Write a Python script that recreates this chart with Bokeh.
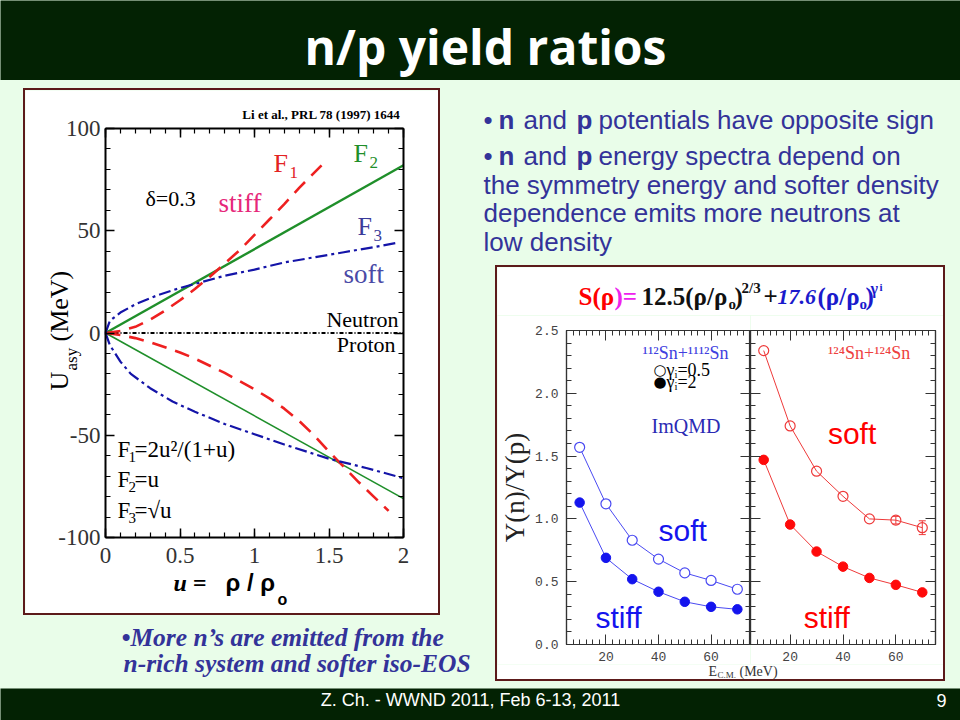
import numpy as np
from bokeh.plotting import figure
from bokeh.models import (Range1d, Label, LinearAxis, FixedTicker, Spacer,
                          Whisker, ColumnDataSource, TeeHead, CustomJSTickFormatter)
from bokeh.layouts import column, row
from bokeh.embed import file_html
from bokeh.resources import INLINE

# ---------------- data: left panel (U_asy vs u = rho/rho0) ----------------
u_f2 = [0.0, 2.0]
neutron_f2 = [0.0, 82.0]
proton_f2 = [0.0, -81.0]

u_f1_n = [0.0, 0.1, 0.2, 0.3, 0.4, 0.5, 0.6, 0.7, 0.8, 0.9, 1.0, 1.1, 1.2, 1.3, 1.45]
neutron_f1 = [0, 1, 3, 6.5, 11, 16, 21.5, 27.5, 34, 40.5, 48, 55.5, 63, 71, 82]
u_f1_p = [0.0, 0.1, 0.2, 0.3, 0.4, 0.5, 0.6, 0.7, 0.8, 0.9, 1.0, 1.1, 1.2, 1.3, 1.4,
          1.5, 1.6, 1.7, 1.8, 1.9]
proton_f1 = [0, -1, -2.5, -4.5, -7, -9.5, -12.5, -16, -19.5, -23.5, -27.5, -32, -37,
             -43, -50, -58, -65.5, -73, -80, -87]

u_f3_n = [0.0, 0.03, 0.1, 0.2, 0.35, 0.5, 0.65, 0.8, 1.0, 1.2, 1.4, 1.6, 1.8, 1.95]
neutron_f3 = [0, 6, 10, 14, 18.5, 22, 25, 28, 31, 34.5, 37, 39.5, 42, 44]
u_f3_p = [0.0, 0.03, 0.1, 0.17, 0.3, 0.45, 0.6, 0.8, 1.0, 1.2, 1.5, 1.75, 2.0]
proton_f3 = [0, -6, -14, -20, -27, -33.5, -38.5, -44.5, -49.5, -54.5, -61.5, -66, -71]

u_ticks = [0, 0.5, 1, 1.5, 2]
uasy_ticks = [-100, -50, 0, 50, 100]

# ---------------- data: right panel (Y(n)/Y(p) vs E_cm) ----------------
e_cm = [10, 20, 30, 40, 50, 60, 70]
ratio_112_soft = [1.57, 1.12, 0.83, 0.68, 0.57, 0.51, 0.44]
ratio_112_stiff = [1.13, 0.69, 0.52, 0.42, 0.34, 0.30, 0.28]
ratio_124_soft = [2.34, 1.74, 1.38, 1.18, 1.00, 0.99, 0.93]
ratio_124_stiff = [1.47, 0.955, 0.74, 0.62, 0.53, 0.475, 0.415]
err_124_soft = [0, 0, 0, 0, 0, 0.03, 0.055]
ecm_ticks = [20, 40, 60]
ratio_ticks = [0.0, 0.5, 1.0, 1.5, 2.0, 2.5]

# ---------------- style ----------------
BG = "#e9fde9"
DARK = "#032203"
BOXC = "#5c1a1a"
BLUE_TXT = "#333399"
SERIF = "Liberation Serif"
SANS = "Liberation Sans"
GREEN = "#1f8f2a"
RED = "#ee2020"
NAVY = "#1414a8"
BLUE = "#1414ee"
BLUE_O = "#4a4af2"
RED_F = "#ff0a0a"
RED_O = "#ee3a3a"
MID = 0.34  # em offset from alphabetic baseline to the middle of the text box


def bar(w, h):
    return Spacer(width=w, height=h, styles={"background-color": BOXC})


def labeller(p, fx, fy):
    """Return a function placing Labels given page-pixel positions (baseline)."""
    def add(px, py, s, size, color="black", font=SERIF, style="normal",
            align="left", angle=0.0, mid=False):
        if not mid:
            py = py - MID * size
        p.add_layout(Label(x=fx(px), y=fy(py), text=s, text_font=font,
                           text_font_size=f"{size}px", text_font_style=style,
                           text_color=color, text_align=align, text_baseline="middle",
                           angle=angle))
    return add


def ident(v):
    return v


def sheet(x0, x1, y0, y1, bg):
    p = figure(width=x1 - x0, height=y1 - y0, x_range=Range1d(x0, x1),
               y_range=Range1d(y1, y0), x_axis_type=None, y_axis_type=None,
               toolbar_location=None, output_backend="svg", title=None,
               min_border=0, background_fill_color=bg, border_fill_color=bg,
               outline_line_color=None)
    return p


def style_axis(ax, ticks, minor, tick_in, minor_in, line_w, color, size=13,
               font=SERIF, standoff=0, label_color="#333", hide=False, overrides=None):
    ax.ticker = FixedTicker(ticks=ticks, minor_ticks=minor)
    ax.axis_line_color = color
    ax.axis_line_width = line_w
    ax.major_tick_in = tick_in
    ax.major_tick_out = 0
    ax.minor_tick_in = minor_in
    ax.minor_tick_out = 0
    ax.major_tick_line_color = color
    ax.minor_tick_line_color = color
    ax.major_tick_line_width = max(1.0, line_w * 0.75)
    ax.minor_tick_line_width = max(1.0, line_w * 0.6)
    ax.major_label_standoff = standoff
    if hide:
        ax.formatter = CustomJSTickFormatter(code="return ''")
        ax.major_label_text_font_size = "0px"
    else:
        ax.major_label_text_font = font
        ax.major_label_text_font_size = f"{size}px"
        ax.major_label_text_color = label_color
        if overrides:
            ax.major_label_overrides = overrides


# ---------------- header & footer ----------------
header = sheet(0, 960, 0, 80, DARK)
hl = labeller(header, ident, ident)
hl(485, 62, "n/p yield ratios", 48, "white", "Open Sans", "bold", "center")

footer = sheet(0, 960, 688, 720, DARK)
fl = labeller(footer, ident, ident)
fl(470, 706, "Z. Ch. - WWND 2011, Feb 6-13, 2011", 18, "white", SANS, align="center")
fl(936, 706, "9", 18, "white", SANS)

# ---------------- left plot (white box 23..440 x 88..615, 2px border) ----------------
def lpx(px):
    return (px - 105) / 149.0


def lpy(py):
    return (332.5 - py) / 2.045


lp = figure(width=413, height=523, x_range=Range1d(lpx(25), lpx(438)),
            y_range=Range1d(lpy(613), lpy(90)),
            toolbar_location=None, output_backend="svg", title=None, min_border=0,
            background_fill_color="white", border_fill_color="white",
            outline_line_color=None)
lp.grid.visible = False
u_minor = [round(0.1 * i, 1) for i in range(21)]
uasy_minor = list(range(-100, 101, 10))
top_ax = LinearAxis()
right_ax = LinearAxis()
lp.add_layout(top_ax, "above")
lp.add_layout(right_ax, "right")
bot_ax = lp.below[0]
left_ax = lp.left[0]
style_axis(bot_ax, u_ticks, u_minor, 9, 5, 2, "black", 23, standoff=10,
           overrides={t: f"{t:g}" for t in u_ticks})
style_axis(left_ax, uasy_ticks, uasy_minor, 9, 5, 2, "black", 23, standoff=5,
           overrides={t: str(t) for t in uasy_ticks})
style_axis(top_ax, u_ticks, u_minor, 9, 5, 2, "black", hide=True)
style_axis(right_ax, uasy_ticks, uasy_minor, 9, 5, 2, "black", hide=True)
u_bounds = (min(u_ticks), max(u_ticks))
v_bounds = (min(uasy_ticks), max(uasy_ticks))
bot_ax.fixed_location = v_bounds[0]
top_ax.fixed_location = v_bounds[1]
left_ax.fixed_location = u_bounds[0]
right_ax.fixed_location = u_bounds[1]
for ax in (bot_ax, top_ax):
    ax.bounds = u_bounds
for ax in (left_ax, right_ax):
    ax.bounds = v_bounds

# Neutron / Proton divider at U = 0
lp.line(list(u_bounds), [0, 0], line_color="black", line_width=2, line_dash="4 2 1 2")
lp.line(u_f2, neutron_f2, line_color=GREEN, line_width=2.4)
lp.line(u_f2, proton_f2, line_color=GREEN, line_width=1.6)
lp.line(u_f1_n, neutron_f1, line_color=RED, line_width=2.6, line_dash="15 9")
lp.line(u_f1_p, proton_f1, line_color=RED, line_width=2.6, line_dash="15 9")
lp.line(u_f3_n, neutron_f3, line_color=NAVY, line_width=2.2, line_dash="12 4 3 4")
lp.line(u_f3_p, proton_f3, line_color=NAVY, line_width=2.2, line_dash="12 4 3 4")

L = labeller(lp, lpx, lpy)
L(400, 118, "Li et al., PRL 78 (1997) 1644", 13, "black", SERIF, "bold", "right")
L(273, 172, "F", 26, "#e32222")
L(289, 178, "1", 17, "#e32222")
L(353, 162, "F", 26, GREEN)
L(369, 168, "2", 17, GREEN)
L(357, 235, "F", 26, "#3b3b9a")
L(373, 241, "3", 17, "#3b3b9a")
L(145, 205, "δ=0.3", 22)
L(218, 212, "stiff", 27, "#e6287a")
L(343, 283, "soft", 27, "#4a4aa6")
L(398, 326, "Neutron", 22, align="right")
L(395, 351, "Proton", 22, align="right")
for yb, sub, rest in ((457, "1", "=2u²/(1+u)"), (487, "2", "=u"), (518, "3", "=√u")):
    L(117, yb, "F", 23)
    L(128, yb + 5, sub, 15)
    L(134, yb, rest, 23)
# rotated y label: U_asy (MeV)
L(59, 390, "U", 26, angle=np.pi / 2, mid=True)
L(71, 370, "asy", 17, angle=np.pi / 2, mid=True)
L(59, 341, "(MeV)", 26, angle=np.pi / 2, mid=True)
# x label: u = rho / rho_o
L(173, 591, "u =", 24, style="bold italic")
L(225, 590, "ρ / ρ", 24, font=SANS, style="bold")
L(277, 604, "o", 16, font=SANS, style="bold")

left_box = column(bar(417, 2), row(bar(2, 523), lp, bar(2, 523)), bar(417, 2))

# ---------------- italic note ----------------
ital = sheet(0, 482, 615, 688, BG)
IL = labeller(ital, ident, ident)
IL(121, 646, "•More n’s are emitted from the", 25.5, BLUE_TXT, SERIF, "bold italic")
IL(123, 672, "n-rich system and softer iso-EOS", 25.5, BLUE_TXT, SERIF, "bold italic")

# ---------------- bullets ----------------
bul = sheet(482, 960, 80, 265, BG)
BL = labeller(bul, ident, ident)
for yb, rest in ((128, "potentials have opposite sign"), (164, "energy spectra depend on")):
    BL(483, yb, "•", 26, BLUE_TXT, SANS)
    BL(498, yb, "n", 26, BLUE_TXT, SANS, "bold")
    BL(523, yb, "and", 26, BLUE_TXT, SANS)
    BL(576, yb, "p", 26, BLUE_TXT, SANS, "bold")
    BL(598, yb, rest, 26, BLUE_TXT, SANS)
BL(483, 193, "the symmetry energy and softer density", 26, BLUE_TXT, SANS)
BL(483, 221, "dependence emits more neutrons at", 26, BLUE_TXT, SANS)
BL(483, 250, "low density", 26, BLUE_TXT, SANS)

# ---------------- right panel (box 495..945 x 265..681, 2px border) ----------------
tfig = sheet(497, 943, 267, 315, "white")
TL = labeller(tfig, ident, ident)
TL(578, 304, "S(ρ", 25, "#ff0000", SERIF, "bold")
TL(614, 304, ")=", 25, "#ee22ee", SERIF, "bold")
TL(641, 304, "12.5(ρ/ρ", 25, "#111111", SERIF, "bold")
TL(728, 309, "o", 15, "#111111", SERIF, "bold")
TL(734, 304, ")", 25, "#111111", SERIF, "bold")
TL(741, 293, "2/3", 15, "#111111", SERIF, "bold")
TL(763, 304, "+", 25, "#111111", SERIF, "bold")
TL(777, 304, "17.6", 22, "#1a1acc", SERIF, "bold italic")
TL(817, 304, "(ρ/ρ", 25, "#1a1acc", SERIF, "bold")
TL(859, 309, "o", 15, "#1a1acc", SERIF, "bold")
TL(865, 304, ")", 25, "#1a1acc", SERIF, "bold")
TL(870, 293, "γ", 16, "#1a1acc", SERIF, "bold")
TL(879, 290, "i", 11, "#1a1acc", SERIF, "bold")

e_minor = [2.5 * i for i in range(0, 33)]
r_minor = [round(0.1 * i, 1) for i in range(26)]
r_labels = {t: f"{t:.1f}" for t in ratio_ticks}


def subplot(width, mb_left, mb_right):
    s = figure(width=width, height=349, x_range=Range1d(5, 75), y_range=Range1d(0, 2.5),
               toolbar_location=None, output_backend="svg", title=None,
               min_border_left=mb_left, min_border_right=mb_right,
               min_border_top=15, min_border_bottom=20,
               background_fill_color="white", border_fill_color="white",
               outline_line_color="#333333", outline_line_width=1.2)
    s.grid.visible = False
    t = LinearAxis()
    r = LinearAxis()
    s.add_layout(t, "above")
    s.add_layout(r, "right")
    style_axis(t, ecm_ticks, e_minor, 10, 5, 1.2, "#333333", hide=True)
    style_axis(r, ratio_ticks, r_minor, 10, 5, 1.2, "#333333", hide=True)
    style_axis(s.below[0], ecm_ticks, e_minor, 10, 5, 1.2, "#333333", 13,
               "Liberation Mono", 7, "#444444")
    return s


ls = subplot(253, 69, 0)
style_axis(ls.left[0], ratio_ticks, r_minor, 10, 5, 1.2, "#333333", 13,
           "Liberation Mono", 8, "#444444", overrides=r_labels)
ls.left[0].axis_label = "Y(n)/Y(p)"
ls.left[0].axis_label_text_font = SERIF
ls.left[0].axis_label_text_font_size = "27px"
ls.left[0].axis_label_text_font_style = "normal"
ls.left[0].axis_label_text_color = "#222222"
ls.left[0].axis_label_standoff = 2

rs = subplot(193, 0, 8)
style_axis(rs.left[0], ratio_ticks, r_minor, 10, 5, 1.2, "#333333", hide=True)

ls.line(e_cm, ratio_112_soft, line_color=BLUE_O, line_width=1)
ls.scatter(e_cm, ratio_112_soft, marker="circle", size=10, fill_color="white",
           line_color=BLUE_O, line_width=1.2)
ls.line(e_cm, ratio_112_stiff, line_color=BLUE_O, line_width=1)
ls.scatter(e_cm, ratio_112_stiff, marker="circle", size=9.5, fill_color=BLUE, line_color=BLUE)

idx = [i for i, e in enumerate(err_124_soft) if e > 0]
esrc = ColumnDataSource(dict(x=[e_cm[i] for i in idx],
                             lo=[ratio_124_soft[i] - err_124_soft[i] for i in idx],
                             hi=[ratio_124_soft[i] + err_124_soft[i] for i in idx]))
rs.line(e_cm, ratio_124_soft, line_color=RED_O, line_width=1)
rs.add_layout(Whisker(source=esrc, base="x", lower="lo", upper="hi", dimension="height",
                      line_color=RED_O, line_width=1,
                      upper_head=TeeHead(size=7, line_color=RED_O, line_width=1),
                      lower_head=TeeHead(size=7, line_color=RED_O, line_width=1)))
rs.scatter(e_cm, ratio_124_soft, marker="circle", size=10, fill_color="white",
           fill_alpha=0.0, line_color=RED_O, line_width=1.2)
rs.line(e_cm, ratio_124_stiff, line_color=RED_O, line_width=1)
rs.scatter(e_cm, ratio_124_stiff, marker="circle", size=9.5, fill_color=RED_F, line_color=RED_F)


def lsx(px):
    return 5 + (px - 566) * 70.0 / 184.0


def rsx(px):
    return 5 + (px - 750) * 70.0 / 184.0


def sy(py):
    return (644 - py) * 2.5 / 314.0


SL = labeller(ls, lsx, sy)
RL = labeller(rs, rsx, sy)
SL(642, 359, "¹¹²Sn+¹¹¹²Sn", 18, "#4040e0")
SL(653, 369, "○", 15, "black", "DejaVu Sans", mid=True)
SL(653, 381, "●", 15, "black", "DejaVu Sans", mid=True)
SL(666, 369, "γᵢ=0.5", 18, "black", SERIF, mid=True)
SL(666, 381, "γᵢ=2", 18, "black", SERIF, mid=True)
SL(651, 432, "ImQMD", 20, "#2a2ab4")
SL(658, 540, "soft", 30, BLUE, SANS)
SL(595, 627, "stiff", 30, BLUE, SANS)
RL(827, 359, "¹²⁴Sn+¹²⁴Sn", 18, "#ee4040")
RL(827, 443, "soft", 30, "#ff0000", SANS)
RL(803, 627, "stiff", 30, "#ff0000", SANS)

xl = sheet(497, 943, 664, 679, "white")
XL = labeller(xl, ident, ident)
XL(708, 676, "E", 14, "#333333")
XL(717, 678, "C.M.", 9, "#333333")
XL(739, 676, "(MeV)", 14, "#333333")

right_panel = column(
    bar(450, 2),
    row(bar(2, 412), column(tfig, row(ls, rs), xl), bar(2, 412)),
    bar(450, 2),
)

# ---------------- layout ----------------
left_col = column(
    Spacer(width=482, height=8),
    row(Spacer(width=23, height=527), left_box, Spacer(width=42, height=527)),
    ital,
)
right_col = column(
    bul,
    row(Spacer(width=13, height=416), right_panel, Spacer(width=15, height=416)),
    Spacer(width=478, height=7),
)
root = column(header, row(left_col, right_col), footer, styles={"background-color": BG})

open("out.html", "w").write(file_html(root, INLINE, title="n/p yield ratios"))
